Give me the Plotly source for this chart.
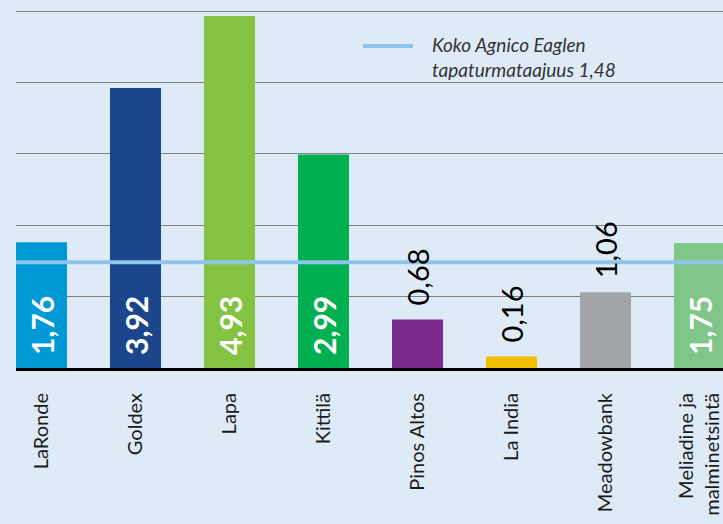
import plotly.graph_objects as go

# ------------------------------------------------------------------ #
# Data                                                                #
# ------------------------------------------------------------------ #

SITES = ["LaRonde", "Goldex", "Lapa", "Kittilä", "Pinos Altos", "La India",
         "Meadowbank", "Meliadine ja<br>malminetsintä"]
RATES = [1.76, 3.92, 4.93, 2.99, 0.68, 0.16, 1.06, 1.75]
BAR_COLOURS = ["#0099d8", "#1b468c", "#84c341", "#00b050", "#782b8c",
               "#f2c000", "#a3a6a9", "#80c68a"]
LABEL_INSIDE = [True, True, True, True, False, False, False, True]
COMPANY_AVG = 1.48
AVG_LABEL = "Koko Agnico Eaglen<br>tapaturmataajuus 1,48"

_BG = "#deebf7"
_AVG_COLOUR = "#8ec3ea"
_FONT = "Lato, Open Sans, Arial, sans-serif"

xs = list(range(len(SITES)))

fig = go.Figure()

# bars
fig.add_trace(go.Bar(
    x=xs, y=RATES,
    marker=dict(color=BAR_COLOURS, line=dict(width=0)),
    showlegend=False, hoverinfo="skip",
))

# company-wide average line
fig.add_trace(go.Scatter(
    x=[-0.5, len(SITES) - 0.5], y=[COMPANY_AVG, COMPANY_AVG],
    mode="lines", line=dict(color=_AVG_COLOUR, width=4),
    showlegend=False, hoverinfo="skip",
))

# value labels: white at the foot of tall bars, black above short ones
for x, v, inside in zip(xs, RATES, LABEL_INSIDE):
    fig.add_annotation(
        x=x, y=0 if inside else v,
        text=f"{v:.2f}".replace(".", ","),
        textangle=-90, xanchor="center", yanchor="bottom",
        yshift=11 if inside else 12, showarrow=False,
        font=dict(family=_FONT, size=30 if inside else 29,
                  color="white" if inside else "black",
                  weight="bold" if inside else "normal"),
    )

# hand-drawn legend, top right
fig.add_shape(type="line", xref="paper", yref="paper",
              x0=(363 - 16) / 707, x1=(413 - 16) / 707, y0=1 - 46 / 368, y1=1 - 46 / 368,
              line=dict(color=_AVG_COLOUR, width=4))
fig.add_annotation(text=AVG_LABEL, xref="paper", yref="paper",
                   x=(430 - 16) / 707, y=1 - 57 / 368, xanchor="left", yanchor="middle",
                   align="left", showarrow=False,
                   font=dict(family=_FONT, size=19, color="#333333", style="italic"))

fig.update_layout(
    width=723,
    height=524,
    margin=dict(l=16, r=0, t=0, b=156),
    paper_bgcolor=_BG,
    plot_bgcolor=_BG,
    bargap=0.457,
    font=dict(family=_FONT, color="#1a1a1a"),
    xaxis=dict(
        tickmode="array",
        tickvals=xs,
        ticktext=SITES,
        tickangle=-90,
        tickfont=dict(size=20, color="#1a1a1a"),
        ticklabelstandoff=14,
        range=[-0.2713, 7.25],
        showgrid=False,
        zeroline=False,
        showline=True,
        linecolor="black",
        linewidth=3,
        ticks="",
    ),
    yaxis=dict(
        range=[0, 5.154],
        dtick=1,
        showgrid=True,
        gridcolor="#808080",
        gridwidth=1.2,
        zeroline=False,
        showticklabels=False,
        ticks="",
    ),
)

fig.write_html("out.html", config={"displayModeBar": False},
               post_script="document.body.style.margin='0px';")
